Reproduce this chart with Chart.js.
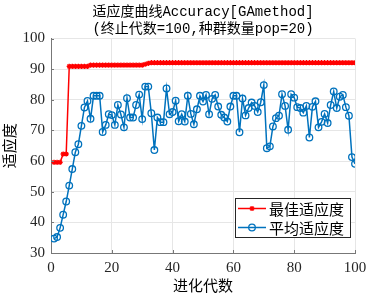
<!DOCTYPE html>
<html>
<head>
<meta charset="utf-8">
<script src="https://cdn.jsdelivr.net/npm/chart.js@4"></script>
<style>
  html, body { margin: 0; padding: 0; background: #fff; }
  #wrap { width: 392px; height: 294px; }
</style>
</head>
<body>
<div id="wrap"><canvas id="fitness-chart" width="392" height="294"></canvas></div>
<script>
// Chart data
const titleLines = ['适应度曲线Accuracy[GAmethod]', '(终止代数=100,种群数量pop=20)'];
const seriesNames = ['最佳适应度', '平均适应度'];
const xTicks = [0, 20, 40, 60, 80, 100];
const yTicks = [30, 40, 50, 60, 70, 80, 90, 100];

const bestFitness = [
    59.6, 59.6, 59.6, 62.3, 62.3, 90.9, 90.9, 90.9, 90.9, 90.9,
    90.9, 90.9, 91.3, 91.3, 91.3, 91.3, 91.3, 91.3, 91.3, 91.3,
    91.3, 91.3, 91.3, 91.3, 91.3, 91.3, 91.3, 91.3, 91.3, 91.3,
    91.6, 91.9, 92.1, 92.1, 92.1, 92.1, 92.1, 92.1, 92.1, 92.1,
    92.1, 92.1, 92.1, 92.1, 92.1, 92.1, 92.1, 92.1, 92.1, 92.1,
    92.1, 92.1, 92.1, 92.1, 92.1, 92.1, 92.1, 92.1, 92.1, 92.1,
    92.1, 92.1, 92.1, 92.1, 92.1, 92.1, 92.1, 92.1, 92.1, 92.1,
    92.1, 92.1, 92.1, 92.1, 92.1, 92.1, 92.1, 92.1, 92.1, 92.1,
    92.1, 92.1, 92.1, 92.1, 92.1, 92.1, 92.1, 92.1, 92.1, 92.1,
    92.1, 92.1, 92.1, 92.1, 92.1, 92.1, 92.1, 92.1, 92.1, 92.1
];

const avgFitness = [
    34.7, 35.2, 38.2, 42.5, 46.8, 52.0, 57.4, 62.9, 65.5, 71.5,
    77.5, 79.6, 73.8, 81.3, 81.3, 81.3, 69.5, 71.8, 75.3, 75.0,
    71.8, 78.3, 75.2, 71.0, 80.5, 74.2, 74.2, 78.3, 81.7, 73.7,
    84.3, 84.3, 75.6, 63.6, 74.2, 72.7, 72.7, 83.7, 75.3, 76.0,
    79.7, 73.0, 75.3, 72.9, 81.3, 75.4, 72.0, 76.9, 81.3, 79.4,
    81.6, 75.3, 80.3, 81.6, 77.8, 75.1, 74.2, 72.9, 77.8, 81.3,
    81.3, 69.4, 80.4, 74.9, 77.3, 79.1, 78.0, 76.0, 79.2, 84.8,
    64.2, 64.8, 71.3, 74.0, 74.8, 81.8, 78.0, 70.2, 81.8, 80.7,
    77.6, 77.3, 75.8, 78.0, 67.7, 77.7, 79.5, 71.0, 72.8, 75.4,
    72.4, 78.3, 82.7, 77.3, 81.0, 81.6, 77.6, 74.8, 61.3, 59.1
];

const RED = '#ff0000';
const BLUE = '#0072bd';
const AXIS = '#777';
const SERIF = '"Liberation Serif", "Times New Roman", serif';
const CJK = '"Noto Sans CJK SC", sans-serif';

// generation number = position in the series (1..100)
const toPoints = arr => arr.map((v, i) => ({ x: i + 1, y: v }));

// title centred over the plot area (MATLAB style), inward tick marks
const axesDecor = {
    id: 'axesDecor',
    afterDraw(chart) {
        const ctx = chart.ctx;
        const area = chart.chartArea;
        ctx.save();
        ctx.fillStyle = '#000';
        ctx.font = '14px "Liberation Mono", ' + CJK;
        ctx.textAlign = 'center';
        ctx.textBaseline = 'middle';
        const cx = (area.left + area.right) / 2;
        titleLines.forEach((t, i) => ctx.fillText(t, cx, 12.5 + i * 16.5));

        ctx.strokeStyle = AXIS;
        ctx.lineWidth = 1;
        ctx.beginPath();
        const xs = chart.scales.x, ys = chart.scales.y;
        xTicks.forEach(v => {
            const px = Math.round(xs.getPixelForValue(v)) + 0.5;
            ctx.moveTo(px, area.bottom);
            ctx.lineTo(px, area.bottom - 3);
        });
        yTicks.forEach(v => {
            const py = Math.round(ys.getPixelForValue(v)) + 0.5;
            ctx.moveTo(area.left, py);
            ctx.lineTo(area.left + 3, py);
        });
        ctx.stroke();
        ctx.restore();
    }
};

// legend drawn inside the plot, bottom right (like MATLAB 'southeast')
const insideLegend = {
    id: 'insideLegend',
    afterDatasetsDraw(chart) {
        const ctx = chart.ctx;
        const area = chart.chartArea;
        const boxW = 115, boxH = 39;
        const bx = area.right - 5 - boxW;
        const by = area.bottom - 16 - boxH;
        ctx.save();
        ctx.fillStyle = '#fff';
        ctx.fillRect(bx, by, boxW, boxH);
        ctx.strokeStyle = '#262626';
        ctx.lineWidth = 1;
        ctx.strokeRect(bx + 0.5, by + 0.5, boxW, boxH);
        chart.data.datasets.forEach((ds, i) => {
            const y = by + 10.5 + i * 19;
            ctx.strokeStyle = ds.borderColor;
            ctx.lineWidth = 1.5;
            ctx.beginPath();
            ctx.moveTo(bx + 3, y);
            ctx.lineTo(bx + 31, y);
            ctx.stroke();
            ctx.fillStyle = 'rgba(255,255,255,0)';
            ctx.lineWidth = ds.pointBorderWidth;
            Chart.helpers.drawPoint(ctx, {
                pointStyle: ds.pointStyle,
                radius: ds.pointRadius,
                borderWidth: ds.pointBorderWidth,
                rotation: 0
            }, bx + 17, y);
            ctx.fillStyle = '#000';
            ctx.font = '15px ' + CJK;
            ctx.textBaseline = 'middle';
            ctx.fillText(ds.label, bx + 34, y + 1);
        });
        ctx.restore();
    }
};

function makeDataset(label, values, color, style, radius) {
    return {
        label: label,
        data: toPoints(values),
        borderColor: color,
        backgroundColor: color,
        borderWidth: 1.5,
        pointStyle: style,
        pointRadius: radius,
        pointBorderWidth: 1.3,
        pointBorderColor: color,
        pointBackgroundColor: 'rgba(0,0,0,0)',
        tension: 0
    };
}

new Chart(document.getElementById('fitness-chart'), {
    type: 'line',
    data: {
        datasets: [
            makeDataset(seriesNames[0], bestFitness, RED, 'star', 2.6),
            makeDataset(seriesNames[1], avgFitness, BLUE, 'circle', 3.3)
        ]
    },
    options: {
        responsive: false,
        animation: false,
        devicePixelRatio: 1,
        layout: { padding: { left: 0, right: 37, top: 38.5, bottom: 0 } },
        plugins: {
            legend: { display: false },
            tooltip: { enabled: false },
            title: { display: false }
        },
        scales: {
            x: {
                type: 'linear',
                min: 0,
                max: 100,
                afterBuildTicks: s => { s.ticks = xTicks.map(v => ({ value: v })); },
                afterFit: s => { s.height = 41; },
                ticks: { color: '#262626', font: { family: SERIF, size: 15 }, padding: 6, maxRotation: 0 },
                grid: { color: '#e6e6e6', drawTicks: false },
                border: { color: AXIS, width: 1 },
                title: {
                    display: true,
                    text: '进化代数',
                    color: '#000',
                    font: { family: CJK, size: 15, lineHeight: 1.2 },
                    padding: { top: 0, bottom: 0 }
                }
            },
            y: {
                min: 30,
                max: 100,
                afterBuildTicks: s => { s.ticks = yTicks.map(v => ({ value: v })); },
                afterFit: s => { s.width = 51; },
                ticks: { color: '#262626', font: { family: SERIF, size: 15 }, padding: 6 },
                grid: { color: '#e6e6e6', drawTicks: false },
                border: { color: AXIS, width: 1 },
                title: {
                    display: true,
                    text: '适应度',
                    color: '#000',
                    font: { family: CJK, size: 15, lineHeight: 1.2 },
                    padding: { top: 0, bottom: 0 }
                }
            }
        }
    },
    plugins: [insideLegend, axesDecor]
});
</script>
</body>
</html>
